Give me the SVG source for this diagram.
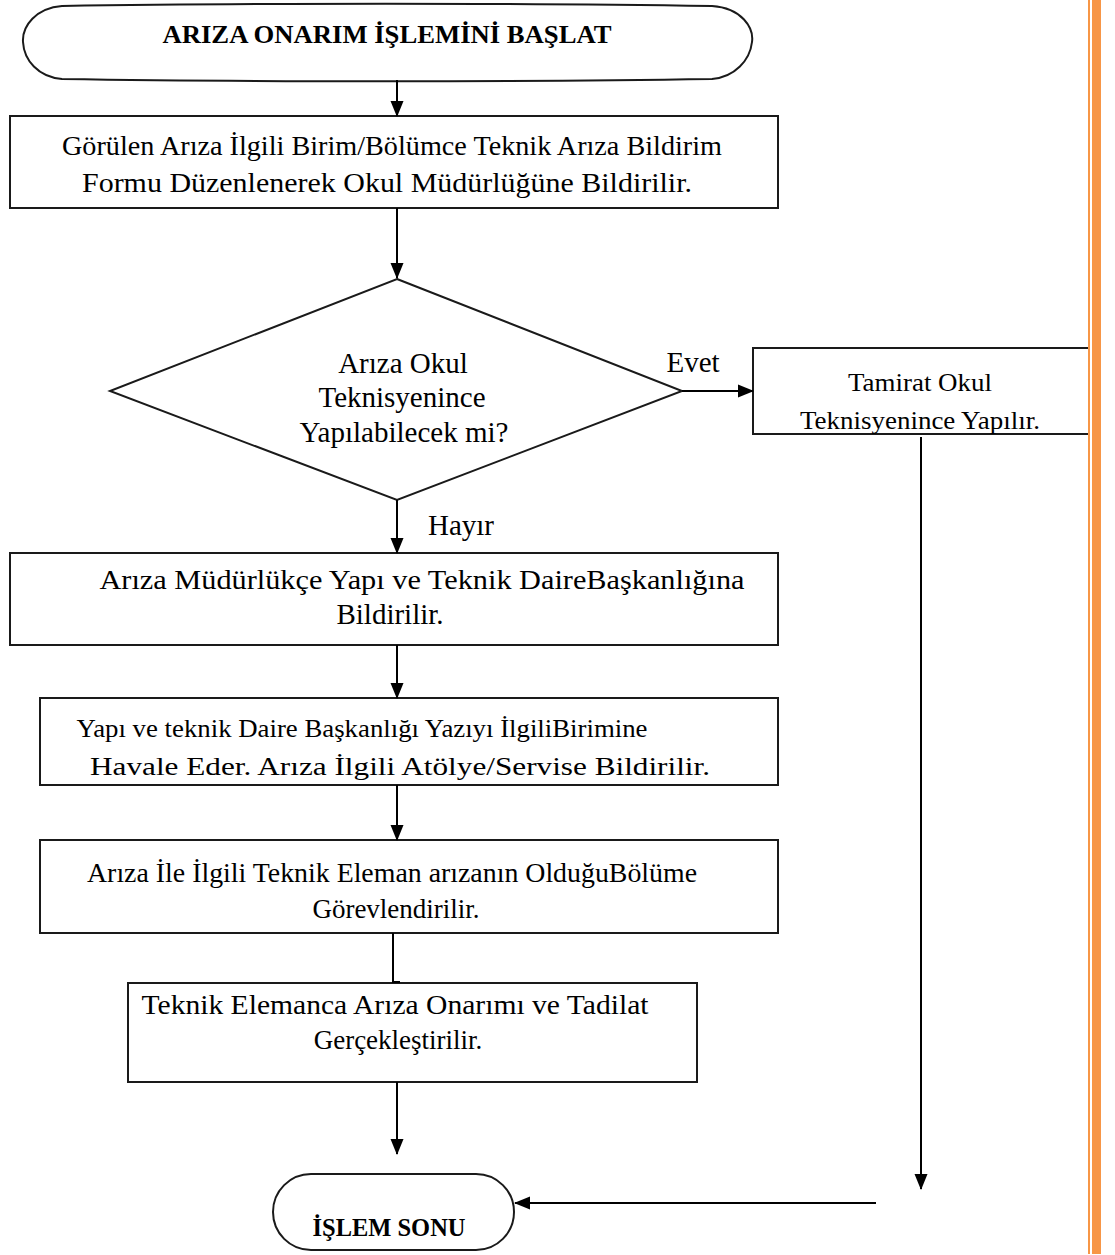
<svg xmlns="http://www.w3.org/2000/svg" width="1115" height="1255" viewBox="0 0 1115 1255">
<defs>
<style>
.s{fill:#fff;stroke:#1a1a1a;stroke-width:2}
.t{font-family:"Liberation Serif","Times New Roman",serif;font-size:27px;fill:#000}
.tb{font-family:"Liberation Serif","Times New Roman",serif;font-size:25px;font-weight:bold;fill:#000}
.c{stroke:#000;stroke-width:2;fill:none}
</style>
<marker id="ah" markerWidth="16" markerHeight="14" viewBox="0 0 16 14" refX="15" refY="7" orient="auto" markerUnits="userSpaceOnUse">
<path d="M0,0.5 L16,7 L0,13.5 Z" fill="#000"/>
</marker>
</defs>
<rect width="1115" height="1255" fill="#fff"/>
<g id="orange-bar">
<rect x="1088" y="0" width="2" height="1254" fill="#F79646"/>
<rect x="1092" y="0" width="9" height="1254" fill="#F79646"/>
</g>
<g id="start">
<path class="s" d="M62,6 C250,3 520,3 712,6 C742,8 754,28 752,42 C750,60 735,77 712,79 C520,82 250,82 62,79 C38,77 24,60 23,42 C22,26 36,8 62,6 Z"/>
<text class="tb" x="387" y="43" text-anchor="middle" textLength="449" lengthAdjust="spacingAndGlyphs">ARIZA ONARIM İŞLEMİNİ BAŞLAT</text>
</g>
<g id="box1">
<rect class="s" x="10" y="116" width="768" height="92"/>
<text class="t" x="392" y="155" text-anchor="middle" textLength="660" lengthAdjust="spacingAndGlyphs">Görülen Arıza İlgili Birim/Bölümce Teknik Arıza Bildirim</text>
<text class="t" x="387" y="192" text-anchor="middle" textLength="610" lengthAdjust="spacingAndGlyphs">Formu Düzenlenerek Okul Müdürlüğüne Bildirilir.</text>
</g>
<g id="decision">
<polygon class="s" points="397,279 682,391 397,500 110,391"/>
<text class="t" style="font-size:29px" x="403" y="373" text-anchor="middle">Arıza Okul</text>
<text class="t" style="font-size:29px" x="402" y="407" text-anchor="middle">Teknisyenince</text>
<text class="t" style="font-size:29px" x="404" y="442" text-anchor="middle">Yapılabilecek mi?</text>
</g>
<g id="tamirat">
<path class="s" d="M1088,348 H753 V434 H1088"/>
<text class="t" style="font-size:25px" x="920" y="391" text-anchor="middle" textLength="144" lengthAdjust="spacingAndGlyphs">Tamirat Okul</text>
<text class="t" style="font-size:25px" x="920" y="429" text-anchor="middle" textLength="240" lengthAdjust="spacingAndGlyphs">Teknisyenince Yapılır.</text>
</g>
<g id="box3">
<rect class="s" x="10" y="553" width="768" height="92"/>
<text class="t" x="422" y="589" text-anchor="middle" textLength="645" lengthAdjust="spacingAndGlyphs">Arıza Müdürlükçe Yapı ve Teknik DaireBaşkanlığına</text>
<text class="t" style="font-size:29px" x="390" y="624" text-anchor="middle">Bildirilir.</text>
</g>
<g id="box4">
<rect class="s" x="40" y="698" width="738" height="87"/>
<text class="t" style="font-size:25px" x="362" y="737" text-anchor="middle" textLength="571" lengthAdjust="spacingAndGlyphs">Yapı ve teknik Daire Başkanlığı Yazıyı İlgiliBirimine</text>
<text class="t" style="font-size:26px" x="400" y="775" text-anchor="middle" textLength="620" lengthAdjust="spacingAndGlyphs">Havale Eder. Arıza İlgili Atölye/Servise Bildirilir.</text>
</g>
<g id="box5">
<rect class="s" x="40" y="840" width="738" height="93"/>
<text class="t" x="392" y="882" text-anchor="middle" textLength="610" lengthAdjust="spacingAndGlyphs">Arıza İle İlgili Teknik Eleman arızanın OlduğuBölüme</text>
<text class="t" x="396" y="918" text-anchor="middle">Görevlendirilir.</text>
</g>
<g id="box6">
<rect class="s" x="128" y="983" width="569" height="99"/>
<text class="t" x="395" y="1014" text-anchor="middle" textLength="507" lengthAdjust="spacingAndGlyphs">Teknik Elemanca Arıza Onarımı ve Tadilat</text>
<text class="t" x="398" y="1049" text-anchor="middle">Gerçekleştirilir.</text>
</g>
<g id="end">
<rect class="s" x="273" y="1174" width="241" height="76" rx="38" ry="38"/>
<text class="tb" x="389" y="1236" text-anchor="middle" textLength="153" lengthAdjust="spacingAndGlyphs">İŞLEM SONU</text>
</g>
<g id="connectors">
<line class="c" x1="397" y1="80" x2="397" y2="116" marker-end="url(#ah)"/>
<line class="c" x1="397" y1="208" x2="397" y2="278" marker-end="url(#ah)"/>
<line class="c" x1="682" y1="391" x2="753" y2="391" marker-end="url(#ah)"/>
<line class="c" x1="397" y1="500" x2="397" y2="553" marker-end="url(#ah)"/>
<line class="c" x1="397" y1="645" x2="397" y2="698" marker-end="url(#ah)"/>
<line class="c" x1="397" y1="785" x2="397" y2="840" marker-end="url(#ah)"/>
<path class="c" d="M393,933 V982 H400"/>
<line class="c" x1="397" y1="1082" x2="397" y2="1154" marker-end="url(#ah)"/>
<line class="c" x1="921" y1="437" x2="921" y2="1189" marker-end="url(#ah)"/>
<line class="c" x1="876" y1="1203" x2="515" y2="1203" marker-end="url(#ah)"/>
<text class="t" style="font-size:29px" x="693" y="372" text-anchor="middle">Evet</text>
<text class="t" style="font-size:29px" x="461" y="535" text-anchor="middle">Hayır</text>
</g>
</svg>
